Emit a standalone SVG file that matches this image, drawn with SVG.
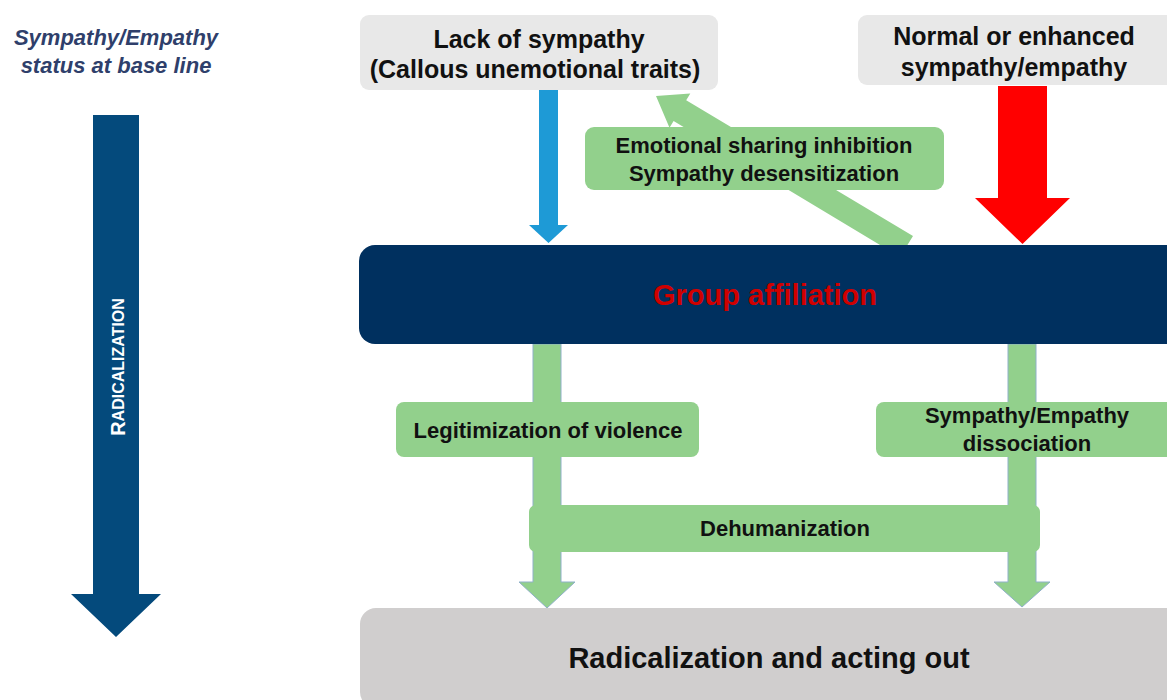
<svg xmlns="http://www.w3.org/2000/svg" width="1167" height="700" viewBox="0 0 1167 700">
<style>
  text { font-family: "Liberation Sans", Arial, sans-serif; font-weight: bold; text-anchor: middle; dominant-baseline: central; }
  .lbl { font-size: 22px; fill: #111; }
  .top { font-size: 25px; }
  .head { font-size: 22px; font-style: italic; fill: #2F3F6B; }
  .gray { fill: #E8E8E8; }
  .green { fill: #92D08C; }
  .garrow { fill: #92D08C; stroke: #8FB0C8; stroke-width: 1; }
</style>
<rect width="1167" height="700" fill="#FFFFFF"/>

<g id="baseline-label">
  <text class="head" x="116" y="37">Sympathy/Empathy</text>
  <text class="head" x="116" y="65">status at base line</text>
</g>

<g id="radicalization-axis">
  <polygon points="93,115 139,115 139,594 161,594 116,637 71,594 93,594" fill="#044A7C"/>
  <text x="0" y="0" transform="translate(118,367) rotate(-90)" style="font-size:20px;fill:#FFFFFF">R<tspan style="font-size:16px">ADICALIZATION</tspan></text>
</g>

<g id="connectors">
  <polygon id="blue-arrow" points="539,90 558,90 558,225 568,225 548.5,243 529,225 539,225" fill="#1E9AD6"/>
  <polygon id="red-arrow" points="998,86 1047,86 1047,198 1070,198 1022.5,244 975,198 998,198" fill="#FF0000"/>
  <polygon id="diag-arrow" points="913,236 686.2,100.3 690.3,93.5 656,96 669.5,127.7 673.6,120.9 900,257" fill="#92D08C"/>
  <polygon id="left-down" class="garrow" points="533,344 561,344 561,582 575,582 547,608 519,582 533,582"/>
  <polygon id="right-down" class="garrow" points="1008,344 1036,344 1036,582 1050,582 1022,607 994,582 1008,582"/>
</g>

<g id="lack-of-sympathy">
  <rect class="gray" x="360" y="15" width="358" height="75" rx="9"/>
  <text class="lbl top" x="539" y="39">Lack of sympathy</text>
  <text class="lbl top" x="535" y="69">(Callous unemotional traits)</text>
</g>

<g id="normal-sympathy">
  <rect class="gray" x="858" y="15" width="320" height="70" rx="9"/>
  <text class="lbl top" x="1014" y="36">Normal or enhanced</text>
  <text class="lbl top" x="1014" y="67">sympathy/empathy</text>
</g>

<g id="emotional-sharing">
  <rect class="green" x="585" y="127" width="359" height="63" rx="9"/>
  <text class="lbl" x="764" y="145">Emotional sharing inhibition</text>
  <text class="lbl" x="764" y="173">Sympathy desensitization</text>
</g>

<g id="group-affiliation">
  <rect x="359" y="245" width="830" height="99" rx="16" fill="#00305F"/>
  <text x="765" y="295" style="font-size:29px;fill:#D00000">Group affiliation</text>
</g>

<g id="legitimization">
  <rect class="green" x="396" y="402" width="303" height="55" rx="8"/>
  <text class="lbl" x="548" y="430">Legitimization of violence</text>
</g>

<g id="dissociation">
  <rect class="green" x="876" y="402" width="310" height="55" rx="8"/>
  <text class="lbl" x="1027" y="415">Sympathy/Empathy</text>
  <text class="lbl" x="1027" y="443">dissociation</text>
</g>

<g id="dehumanization">
  <rect class="green" x="529" y="505" width="511" height="47" rx="7"/>
  <text class="lbl" x="785" y="528">Dehumanization</text>
</g>

<g id="outcome">
  <rect x="360" y="608" width="830" height="100" rx="16" fill="#D0CECE"/>
  <text x="769" y="658" style="font-size:29px;fill:#111">Radicalization and acting out</text>
</g>
</svg>
